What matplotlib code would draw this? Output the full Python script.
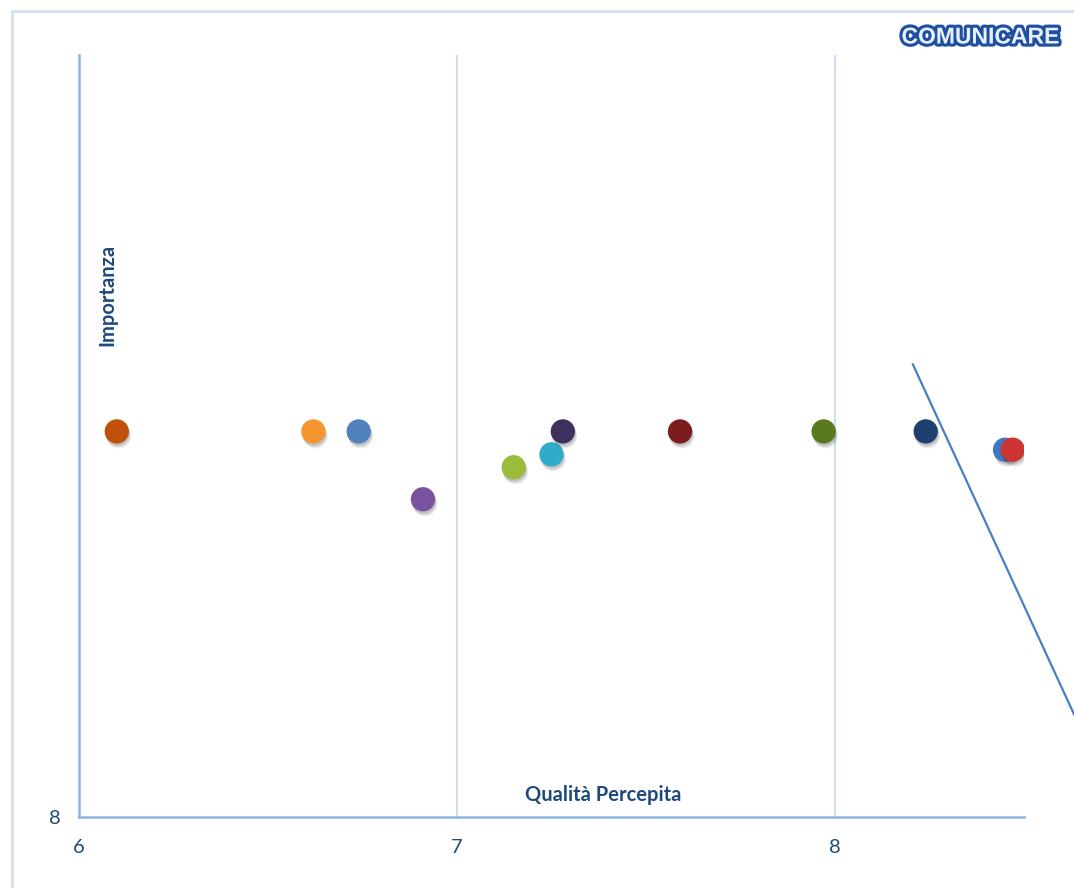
import matplotlib
matplotlib.use("Agg")
import matplotlib.pyplot as plt
import matplotlib.patheffects as pe
from matplotlib.patches import Rectangle

# Quality (x) vs importance (y) for each service item
qualita = [6.10, 6.62, 6.74, 6.91, 7.15, 7.25, 7.28, 7.59, 7.97, 8.24, 8.45, 8.47]
importanza = [8.506, 8.506, 8.506, 8.417, 8.459, 8.476, 8.506, 8.506, 8.506, 8.506, 8.482, 8.482]
colori = ["#C0500A", "#F79530", "#4F81BD", "#7B52A0", "#9BBB3A", "#31ACC8",
          "#40305E", "#7C1C1C", "#5A7A1E", "#1F3F6E", "#3C78C4", "#CC3333"]

x_ticks = [6, 7, 8]
y_ticks = [8]

TEXT_BLUE = "#1F497D"
plt.rcParams["font.family"] = ["Lato", "DejaVu Sans"]

fig = plt.figure(figsize=(10.74, 8.88), dpi=100)
fig.patch.set_facecolor("white")

# light frame around the chart area
fig.patches.append(Rectangle((12 / 1074, -0.1), 1.2, (888 - 11) / 888 + 0.1,
                             transform=fig.transFigure, fill=False,
                             edgecolor="#D3E0F1", linewidth=2))

ax = fig.add_axes([79 / 1074, (888 - 817) / 888, (1024 - 79) / 1074, (817 - 55) / 888])
ax.set_xlim(6, 8.5)
ax.set_ylim(8, 9)
ax.set_xticks(x_ticks)
ax.set_yticks(y_ticks)
ax.tick_params(length=0, labelsize=14.5, labelcolor=TEXT_BLUE)
ax.tick_params(axis="y", pad=13)
ax.tick_params(axis="x", pad=16)

for s in ["top", "right"]:
    ax.spines[s].set_visible(False)
for s in ["left", "bottom"]:
    ax.spines[s].set_color("#8EB4E3")
    ax.spines[s].set_linewidth(1.8)

ax.grid(axis="x", color="#D0DEEF", linewidth=1.5)
ax.set_axisbelow(True)

# soft drop shadow under each marker
shadow = [pe.SimplePatchShadow(offset=(0.5, -1.5), shadow_rgbFace="black", alpha=0.10),
          pe.SimplePatchShadow(offset=(1.0, -2.5), shadow_rgbFace="black", alpha=0.09),
          pe.SimplePatchShadow(offset=(1.5, -3.5), shadow_rgbFace="black", alpha=0.07),
          pe.Normal()]
for xv, yv, c in zip(qualita, importanza, colori):
    ax.plot([xv], [yv], "o", markersize=17.5, color=c, markeredgewidth=0,
            path_effects=shadow, zorder=3)

ax.text(0.030, 0.685, "Importanza", transform=ax.transAxes, rotation=90,
        fontsize=14.5, fontweight="bold", color=TEXT_BLUE, ha="center", va="center")
ax.text(0.555, 0.029, "Qualità Percepita", transform=ax.transAxes,
        fontsize=14.5, fontweight="bold", color=TEXT_BLUE, ha="center", va="center")

# diagonal reference line
ax.plot([8.206, 8.66], [8.594, 8.105], color="#4A7EC4", linewidth=1.6,
        clip_on=False, zorder=4)

# brand mark
fig.text(980 / 1074, 1 - 37 / 888, "COMUNICARE", fontsize=16.5, fontweight="bold",
         family="Liberation Sans", color="#E8F0FB", ha="center", va="center",
         path_effects=[pe.SimplePatchShadow(offset=(1, -1.5), alpha=0.3),
                       pe.Stroke(linewidth=4.5, foreground="#1F4FA0"), pe.Normal()])

fig.savefig("out.png", dpi=100, facecolor="white")
